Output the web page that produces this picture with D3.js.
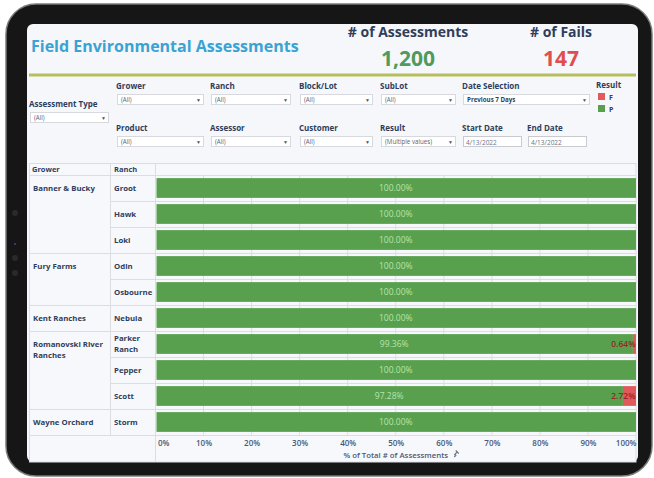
<!doctype html>
<html lang="en">
  <head>
    <meta charset="UTF-8" />
    <title>Field Environmental Assessments</title>
    <script src="https://d3js.org/d3.v7.min.js"></script>
    <style>
      body {
        margin: 0;
        background: #ffffff;
      }
      svg {
        display: block;
        font-family: 'Open Sans', sans-serif;
      }
      .lbl {
        fill: #2f3e5b;
        font-weight: 700;
      }
      .grid line {
        stroke: #dcdde3;
        stroke-width: 1;
      }
    </style>
  </head>
  <body>
    <div id="chart"></div>
    <script>
      const totalAssessments = 1200;
      const totalFails = 147;

      const growers = [
        'Banner & Bucky',
        'Fury Farms',
        'Kent Ranches',
        'Romanovski River Ranches',
        'Wayne Orchard',
      ];
      const ranches = [
        'Groot',
        'Hawk',
        'Loki',
        'Odin',
        'Osbourne',
        'Nebula',
        'Parker Ranch',
        'Pepper',
        'Scott',
        'Storm',
      ];
      const ranchGrower = [
        'Banner & Bucky',
        'Banner & Bucky',
        'Banner & Bucky',
        'Fury Farms',
        'Fury Farms',
        'Kent Ranches',
        'Romanovski River Ranches',
        'Romanovski River Ranches',
        'Romanovski River Ranches',
        'Wayne Orchard',
      ];
      const passPct = [100, 100, 100, 100, 100, 100, 99.36, 100, 97.28, 100];
      const failPct = [0, 0, 0, 0, 0, 0, 0.64, 0, 2.72, 0];
      const xTicks = [0, 10, 20, 30, 40, 50, 60, 70, 80, 90, 100];

      const filterRow1 = [
        ['Grower', '(All)'],
        ['Ranch', '(All)'],
        ['Block/Lot', '(All)'],
        ['SubLot', '(All)'],
        ['Date Selection', 'Previous 7 Days'],
      ];
      const filterRow2 = [
        ['Product', '(All)'],
        ['Assessor', '(All)'],
        ['Customer', '(All)'],
        ['Result', '(Multiple values)'],
      ];
      const dateFilters = [
        ['Start Date', '4/13/2022'],
        ['End Date', '4/13/2022'],
      ];
      const legendItems = ['F', 'P'];

      const W = 654;
      const H = 478;
      const green = '#58a04d';
      const red = '#e05a5c';
      const navy = '#2f3e5b';

      const svg = d3
        .select('#chart')
        .append('svg')
        .attr('width', W)
        .attr('height', H);

      // tablet frame
      svg
        .append('rect')
        .attr('x', 6)
        .attr('y', 4)
        .attr('width', 646)
        .attr('height', 472)
        .attr('rx', 30)
        .attr('fill', '#161616')
        .attr('stroke', '#7a7a7a')
        .attr('stroke-width', 1.5);
      [213, 258, 273].forEach((cy) =>
        svg
          .append('circle')
          .attr('cx', 15)
          .attr('cy', cy)
          .attr('r', 3)
          .attr('fill', '#2a2a2a'),
      );
      svg
        .append('circle')
        .attr('cx', 15)
        .attr('cy', 244)
        .attr('r', 1)
        .attr('fill', '#3a4a8a');

      // screen
      svg
        .append('rect')
        .attr('x', 27)
        .attr('y', 24)
        .attr('width', 611)
        .attr('height', 438)
        .attr('rx', 6)
        .attr('fill', '#f6f7fb');

      // title + KPIs
      svg
        .append('text')
        .attr('x', 31)
        .attr('y', 52)
        .attr('fill', '#3aa3d3')
        .attr('font-weight', 700)
        .attr('font-size', 16)
        .text('Field Environmental Assessments');

      const kpis = [
        ['# of Assessments', totalAssessments, '#4f9a5c', 408],
        ['# of Fails', totalFails, '#e04e4e', 561],
      ];
      kpis.forEach(([label, val, col, cx]) => {
        svg
          .append('text')
          .attr('class', 'lbl')
          .attr('x', cx)
          .attr('y', 37)
          .attr('text-anchor', 'middle')
          .attr('font-size', 14)
          .text(label);
        svg
          .append('text')
          .attr('x', cx)
          .attr('y', 66)
          .attr('text-anchor', 'middle')
          .attr('fill', col)
          .attr('font-weight', 700)
          .attr('font-size', 21)
          .text(d3.format(',')(val));
      });

      svg
        .append('line')
        .attr('x1', 29)
        .attr('x2', 636)
        .attr('y1', 75)
        .attr('y2', 75)
        .attr('stroke', '#b6bf5c')
        .attr('stroke-width', 3);

      // filter controls
      function dropdown(x, y, w, label, value, boldValue) {
        svg
          .append('text')
          .attr('class', 'lbl')
          .attr('x', x - 1)
          .attr('y', y - 5)
          .attr('font-size', 8)
          .text(label);
        svg
          .append('rect')
          .attr('x', x + 0.5)
          .attr('y', y + 0.5)
          .attr('width', w)
          .attr('height', 10)
          .attr('fill', '#ffffff')
          .attr('stroke', '#d8d9de');
        svg
          .append('text')
          .attr('x', x + 4)
          .attr('y', y + 7.7)
          .attr('font-size', 6.2)
          .attr('font-weight', boldValue ? 700 : 400)
          .attr('fill', boldValue ? navy : '#5a6477')
          .text(value);
        svg
          .append('text')
          .attr('x', x + w - 7)
          .attr('y', y + 7.5)
          .attr('font-size', 5)
          .attr('fill', '#555')
          .text('▼');
      }

      dropdown(30, 112, 78, 'Assessment Type', '(All)', false);
      const colX = [117, 211, 300, 381, 463];
      const colW = [86, 79, 72, 74, 126];
      filterRow1.forEach(([label, value], i) =>
        dropdown(colX[i], 94, colW[i], label, value, i === 4),
      );
      filterRow2.forEach(([label, value], i) =>
        dropdown(colX[i], 136, colW[i], label, value, false),
      );
      const dateX = [463, 528];
      dateFilters.forEach(([label, value], i) => {
        svg
          .append('text')
          .attr('class', 'lbl')
          .attr('x', dateX[i] - 1)
          .attr('y', 131)
          .attr('font-size', 8)
          .text(label);
        svg
          .append('rect')
          .attr('x', dateX[i] + 0.5)
          .attr('y', 136.5)
          .attr('width', 58)
          .attr('height', 10)
          .attr('fill', '#ffffff')
          .attr('stroke', '#c9cad0');
        svg
          .append('text')
          .attr('x', dateX[i] + 3)
          .attr('y', 144.5)
          .attr('font-size', 6.5)
          .attr('fill', '#6b7284')
          .text(value);
      });

      // legend
      svg
        .append('text')
        .attr('class', 'lbl')
        .attr('x', 596)
        .attr('y', 88)
        .attr('font-size', 8)
        .text('Result');
      const legColor = d3.scaleOrdinal().domain(legendItems).range([red, green]);
      const legY = d3.scalePoint().domain(legendItems).range([93, 105]);
      legendItems.forEach((k) => {
        svg
          .append('rect')
          .attr('x', 598)
          .attr('y', legY(k))
          .attr('width', 7)
          .attr('height', 7)
          .attr('fill', legColor(k));
        svg
          .append('text')
          .attr('class', 'lbl')
          .attr('x', 609)
          .attr('y', legY(k) + 6.5)
          .attr('font-size', 7)
          .text(k);
      });

      // table
      const tLeft = 29.5;
      const tRanch = 110.5;
      const tTop = 163.5;
      const tHead = 175;
      const tBottom = 462;

      const x = d3.scaleLinear().domain([0, 100]).range([155.5, 636]);
      const row = d3.scaleBand().domain(ranches).range([tHead, 435]);
      const y = d3
        .scaleBand()
        .domain(ranches)
        .range([tHead, 435])
        .paddingInner(0.24)
        .paddingOuter(0.12);

      const tbl = svg.append('g');
      tbl
        .append('rect')
        .attr('x', tLeft)
        .attr('y', tTop)
        .attr('width', x.range()[1] - tLeft)
        .attr('height', tBottom - tTop)
        .attr('fill', '#f7f8fb')
        .attr('stroke', '#dcdde3');

      // vertical gridlines
      tbl
        .append('g')
        .attr('class', 'grid')
        .selectAll('line')
        .data(xTicks.slice(1, -1))
        .join('line')
        .attr('x1', (d) => x(d))
        .attr('x2', (d) => x(d))
        .attr('y1', tHead)
        .attr('y2', row.range()[1]);

      // row separators
      const grid = tbl.append('g').attr('class', 'grid');
      ranches.forEach((r, i) => {
        const newGrower = i === 0 || ranchGrower[i] !== ranchGrower[i - 1];
        grid
          .append('line')
          .attr('x1', newGrower ? tLeft : tRanch)
          .attr('x2', x.range()[1])
          .attr('y1', row(r) + 0.5)
          .attr('y2', row(r) + 0.5);
      });
      grid
        .append('line')
        .attr('x1', tLeft)
        .attr('x2', x.range()[1])
        .attr('y1', row.range()[1] + 0.5)
        .attr('y2', row.range()[1] + 0.5);
      grid
        .append('line')
        .attr('x1', tRanch)
        .attr('x2', tRanch)
        .attr('y1', tTop)
        .attr('y2', row.range()[1]);
      grid
        .append('line')
        .attr('x1', x.range()[0])
        .attr('x2', x.range()[0])
        .attr('y1', tTop)
        .attr('y2', tBottom);

      // headers
      tbl
        .append('text')
        .attr('class', 'lbl')
        .attr('x', 32)
        .attr('y', 172)
        .attr('font-size', 7.5)
        .text('Grower');
      tbl
        .append('text')
        .attr('class', 'lbl')
        .attr('x', 114)
        .attr('y', 172)
        .attr('font-size', 7.5)
        .text('Ranch');

      // grower labels
      const growerWrap = {
        'Romanovski River Ranches': ['Romanovski River', 'Ranches'],
      };
      growers.forEach((g) => {
        const first = ranches[ranchGrower.indexOf(g)];
        const lines = growerWrap[g] || [g];
        const t = tbl
          .append('text')
          .attr('class', 'lbl')
          .attr('x', 33)
          .attr('y', row(first) + row.bandwidth() / 2 + 2.7)
          .attr('font-size', 7.8);
        lines.forEach((ln, j) =>
          t
            .append('tspan')
            .attr('x', 33)
            .attr('dy', j === 0 ? 0 : 11)
            .text(ln),
        );
      });

      // ranch labels
      const ranchWrap = { 'Parker Ranch': ['Parker', 'Ranch'] };
      ranches.forEach((r) => {
        const lines = ranchWrap[r] || [r];
        const t = tbl
          .append('text')
          .attr('class', 'lbl')
          .attr('x', 114)
          .attr(
            'y',
            row(r) + row.bandwidth() / 2 + 2.7 - ((lines.length - 1) * 11) / 2,
          )
          .attr('font-size', 7.8);
        lines.forEach((ln, j) =>
          t
            .append('tspan')
            .attr('x', 114)
            .attr('dy', j === 0 ? 0 : 11)
            .text(ln),
        );
      });

      // bars
      const bars = tbl.append('g');
      bars
        .selectAll('rect.pass')
        .data(ranches)
        .join('rect')
        .attr('class', 'pass')
        .attr('x', x(0) + 1)
        .attr('y', (r) => y(r))
        .attr('width', (r, i) => x(passPct[i]) - x(0) - 1)
        .attr('height', y.bandwidth())
        .attr('fill', green);
      bars
        .selectAll('rect.fail')
        .data(ranches.filter((r, i) => failPct[i] > 0))
        .join('rect')
        .attr('class', 'fail')
        .attr('x', (r) => x(passPct[ranches.indexOf(r)]))
        .attr('y', (r) => y(r))
        .attr('width', (r) => x(100) - x(passPct[ranches.indexOf(r)]))
        .attr('height', y.bandwidth())
        .attr('fill', red);

      const pctFmt = (v) => d3.format('.2f')(v) + '%';
      bars
        .selectAll('text.passLbl')
        .data(ranches)
        .join('text')
        .attr('class', 'passLbl')
        .attr('x', (r, i) => x(passPct[i] / 2))
        .attr('y', (r) => y(r) + y.bandwidth() / 2 + 3)
        .attr('text-anchor', 'middle')
        .attr('font-size', 8.5)
        .attr('fill', '#b9e4ad')
        .text((r, i) => pctFmt(passPct[i]));
      bars
        .selectAll('text.failLbl')
        .data(ranches.filter((r, i) => failPct[i] > 0))
        .join('text')
        .attr('class', 'failLbl')
        .attr('x', x(100) - 0.5)
        .attr('y', (r) => y(r) + y.bandwidth() / 2 + 3)
        .attr('text-anchor', 'end')
        .attr('font-size', 8.5)
        .attr('font-weight', 600)
        .attr('fill', '#9b2426')
        .text((r) => pctFmt(failPct[ranches.indexOf(r)]));

      // x axis
      const axis = tbl
        .append('g')
        .attr('transform', 'translate(0,' + (row.range()[1] + 2) + ')')
        .call(
          d3
            .axisBottom(x)
            .tickValues(xTicks)
            .tickSize(0)
            .tickFormat((d) => d + '%'),
        );
      axis.select('.domain').remove();
      axis
        .selectAll('text')
        .attr('fill', '#4a5977')
        .attr('font-size', 8)
        .attr('font-weight', 600)
        .attr('font-family', "'Open Sans', sans-serif")
        .attr('text-anchor', (d) =>
          d === 0 ? 'start' : d === 100 ? 'end' : 'middle',
        )
        .attr('dx', (d) => (d === 0 ? 2 : 0));
      const axTitle = tbl
        .append('text')
        .attr('x', (x.range()[0] + x.range()[1]) / 2)
        .attr('y', 458)
        .attr('text-anchor', 'middle')
        .attr('font-size', 7.8)
        .attr('font-weight', 600)
        .attr('fill', '#4a5977')
        .text('% of Total # of Assessments');
      // small pin icon after the axis title
      const tEnd = axTitle.node().getBBox();
      const px = tEnd.x + tEnd.width + 6;
      tbl
        .append('path')
        .attr(
          'd',
          `M${px},${455} l3,-3 M${px + 1.5},${450.5} l3,3 M${px},${457} l2,-2`,
        )
        .attr('stroke', '#6a7488')
        .attr('stroke-width', 1.1)
        .attr('fill', 'none');
    </script>
  </body>
</html>
